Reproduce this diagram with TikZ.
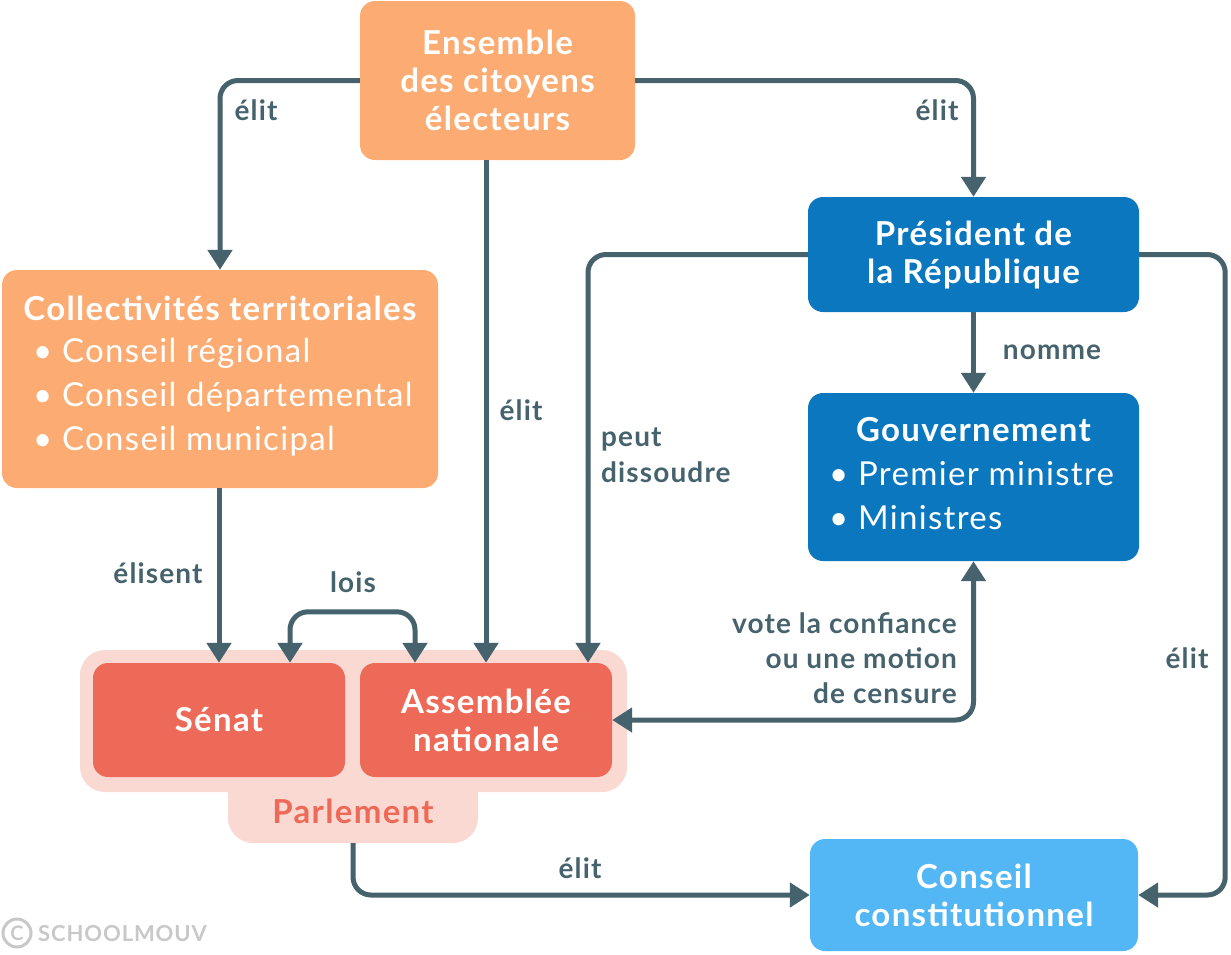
\documentclass[tikz,border=0pt]{standalone}
\usepackage{fontspec}
\setmainfont{Lato}[LetterSpace=4]
\usetikzlibrary{arrows.meta}
\definecolor{cOrange}{HTML}{FCAC72}
\definecolor{cRed}{HTML}{EE6A58}
\definecolor{cPink}{HTML}{FBD9D3}
\definecolor{cBlue}{HTML}{0B77BE}
\definecolor{cLight}{HTML}{52B7F4}
\definecolor{cLine}{HTML}{46636D}
\definecolor{cGray}{HTML}{C8C8C8}
\begin{document}
\begin{tikzpicture}[x=1pt,y=-1pt,
  box/.style={rounded corners=15pt, inner sep=0pt, text=white, align=center,
    font=\fontsize{33}{38}\selectfont\bfseries},
  head/.style={text=white, inner sep=0pt, font=\fontsize{33}{38}\selectfont\bfseries},
  item/.style={text=white, inner sep=0pt, anchor=west, font=\fontsize{33}{38}\selectfont},
  conn/.style={draw=cLine, line width=5pt, rounded corners=18pt,
    -{Triangle[width=24pt,length=20pt]}},
  both/.style={draw=cLine, line width=5pt, rounded corners=18pt,
    {Triangle[width=24pt,length=20pt]}-{Triangle[width=24pt,length=20pt]}},
  lbl/.style={text=cLine, inner sep=0pt, align=center, font=\fontsize{28}{35}\selectfont\bfseries}]
\useasboundingbox (0,0) rectangle (1231,954);

% Parlement background
\fill[cPink, rounded corners=25pt] (80,650) rectangle (627,792);
\node[fill=cPink, rounded corners=25pt, minimum width=250pt, minimum height=90pt, inner sep=0pt] (parlTab) at (353,798) {};
\fill[cPink] (228,760) rectangle (478,792);
\node[text=cRed, inner sep=0pt, font=\fontsize{33}{38}\selectfont\bfseries] (parlT) at (353,811) {Parlement};

% boxes
\node[box, fill=cOrange, minimum width=275pt, minimum height=159pt] (ens) at (497.5,80.5) {Ensemble\\des citoyens\\électeurs};
\node[box, fill=cOrange, minimum width=436pt, minimum height=218pt] (coll) at (220,379) {};
\node[head] (collT) at (220,308) {Collectivités territoriales};
\node[item] (c1) at (33,353) {• Conseil régional};
\node[item] (c2) at (33,397) {• Conseil départemental};
\node[item] (c3) at (33,441) {• Conseil municipal};

\node[box, fill=cBlue, minimum width=331pt, minimum height=115pt] (pres) at (973.5,254.5) {Président de\\la République};
\node[box, fill=cBlue, minimum width=331pt, minimum height=168pt] (gouv) at (973.5,477) {};
\node[head] (gouvT) at (973.5,430) {Gouvernement};
\node[item] (g1) at (829,474) {• Premier ministre};
\node[item] (g2) at (829,518) {• Ministres};

\node[box, fill=cRed, minimum width=252pt, minimum height=114pt] (sen) at (219,720) {Sénat};
\node[box, fill=cRed, minimum width=252pt, minimum height=114pt] (asm) at (486,720) {Assemblée\\nationale};
\node[box, fill=cLight, minimum width=328pt, minimum height=112pt] (cons) at (974,895) {Conseil\\constitutionnel};

% connectors
\draw[conn] (ens.west) -| (coll.north);
\draw[conn] (ens.east) -| (pres.north);
\draw[conn] (asm.north |- ens.south) -- (asm.north);
\draw[conn] (coll.south -| sen.north) -- (sen.north);
\draw[both] ([xshift=-71pt]asm.north) -- ++(0,-51) -| ([xshift=71pt]sen.north);
\draw[conn] (pres.west) -| ([xshift=102pt]asm.north);
\draw[conn] (pres.south) -- (gouv.north);
\draw[both] (gouv.south) |- (asm.east);
\draw[conn] (pres.east) -- ++(86,0) |- (cons.east);
\draw[conn] (parlTab.south) |- (cons.west);

% labels
\node[lbl] (l1) at (256,110) {élit};
\node[lbl] (l2) at (937,110) {élit};
\node[lbl] (l3) at (521,410) {élit};
\node[lbl] (l4) at (158,573) {élisent};
\node[lbl] (l5) at (353,582) {lois};
\node[lbl, align=left, anchor=west, font=\fontsize{28}{36}\selectfont\bfseries] (l6) at (601,455) {peut\\dissoudre};
\node[lbl] (l7) at (1052,352) {nomme};
\node[lbl, align=right, anchor=east, font=\fontsize{28}{35}\selectfont\bfseries] (l8) at (957,658) {vote la confiance\\ou une motion\\de censure};
\node[lbl] (l9) at (1187,658) {élit};
\node[lbl] (l10) at (580,868) {élit};

% watermark
\node[draw=cGray, line width=3pt, circle, minimum size=28pt, inner sep=0pt, text=cGray,
  font=\fontsize{20}{20}\selectfont\bfseries] (copy) at (17,933) {C};
\node[text=cGray, anchor=west, inner sep=0pt, font=\fontsize{22}{22}\selectfont\bfseries] (sm) at (38,934) {SCHOOLMOUV};
\end{tikzpicture}
\end{document}
